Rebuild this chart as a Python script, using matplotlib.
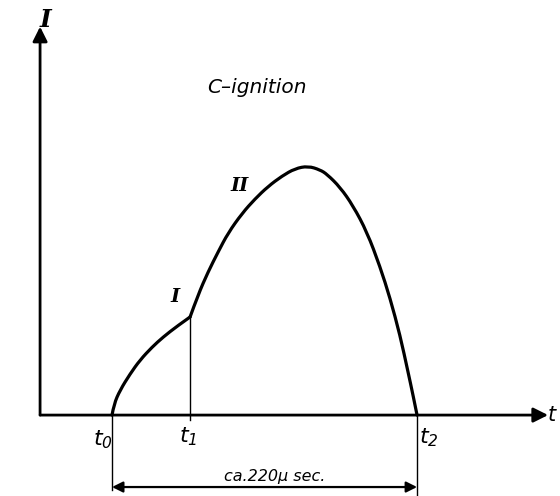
import matplotlib

matplotlib.use("Agg")
import matplotlib.pyplot as plt
from matplotlib.patches import PathPatch
from matplotlib.path import Path

plt.rcParams["mathtext.fontset"] = "custom"
plt.rcParams["mathtext.rm"] = "DejaVu Sans:italic"
plt.rcParams["mathtext.it"] = "DejaVu Sans:italic"

# time in microseconds from ignition start, current in units of the peak
phase1_t = [0.0, 1.4, 5.8, 13.0, 20.2, 28.9, 36.8, 46.9, 56.3]
phase1_i = [0.0, 0.044, 0.100, 0.165, 0.221, 0.273, 0.313, 0.357, 0.394]

phase2_t = [56.3, 62.0, 69.2, 76.5, 83.7, 93.8, 103.1, 112.5, 122.6, 132.0,
            141.4, 150.0, 155.1, 164.5, 173.8, 183.9, 193.3, 200.5, 207.7,
            213.5, 217.1, 220.0]
phase2_i = [0.394, 0.482, 0.574, 0.655, 0.731, 0.810, 0.868, 0.918, 0.960, 0.990,
            1.000, 0.985, 0.967, 0.915, 0.841, 0.735, 0.596, 0.470, 0.321,
            0.173, 0.080, 0.0]

t_marks = [0.0, 56.3, 220.0]
t_labels = [r"$t_0$", r"$t_1$", r"$t_2$"]
duration_label = "ca.220\u00b5 sec."
title = "C\u2013ignition"


def smooth_path(xs, ys):
    """Quadratic Bezier path using the samples as control points."""
    pts = list(zip(xs, ys))
    verts = [pts[0]]
    codes = [Path.MOVETO]
    for k in range(1, len(pts) - 1):
        nxt = pts[k + 1] if k + 1 == len(pts) - 1 else (
            (pts[k][0] + pts[k + 1][0]) / 2, (pts[k][1] + pts[k + 1][1]) / 2)
        verts += [pts[k], nxt]
        codes += [Path.CURVE3, Path.CURVE3]
    return Path(verts, codes)


fig = plt.figure(figsize=(5.6, 4.96), dpi=100)
ax = fig.add_axes([0, 0, 1, 1])
ax.set_xlim(-80.8, 323.1)
ax.set_ylim(-0.325, 1.667)
ax.axis("off")

ink = "black"
arrow = dict(arrowstyle="-|>", color=ink, lw=2.0, shrinkA=0, shrinkB=0,
             mutation_scale=22)

# coordinate axes
ax.annotate("", xy=(-51.9, 1.56), xytext=(-51.9, 0.0), arrowprops=arrow)
ax.annotate("", xy=(314.5, 0.0), xytext=(-51.9, 0.0), arrowprops=arrow)

# current trace
for ts, cur in ((phase1_t, phase1_i), (phase2_t, phase2_i)):
    ax.add_patch(PathPatch(smooth_path(ts, cur), facecolor="none",
                           edgecolor=ink, lw=2.3, capstyle="round"))
ax.plot([t_marks[1], t_marks[1]], [phase1_i[-1], -0.02], color=ink, lw=1.0)

# duration bracket
ax.plot([t_marks[0], t_marks[0]], [0.0, -0.302], color=ink, lw=1.0)
ax.plot([t_marks[2], t_marks[2]], [0.0, -0.325], color=ink, lw=1.0)
ax.annotate("", xy=(t_marks[0], -0.289), xytext=(t_marks[2], -0.289),
            arrowprops=dict(arrowstyle="<|-|>", color=ink, lw=1.6,
                            shrinkA=0, shrinkB=0, mutation_scale=16))
ax.text(117.6, -0.245, duration_label, ha="center", va="center",
        fontsize=11.5, style="italic", color=ink)

# labels
serif = dict(family="DejaVu Serif", style="italic", weight="bold", color=ink,
             ha="center", va="center")
ax.text(-48.3, 1.585, "I", fontsize=18, **serif)
ax.text(92.3, 0.92, "II", fontsize=14, **serif)
ax.text(45.4, 0.474, "I", fontsize=14, **serif)
ax.text(104.6, 1.317, title, ha="center", va="center", fontsize=14.5,
        style="italic", color=ink)
ax.text(314.0, 0.0, r"$t$", ha="left", va="center", fontsize=15, color=ink)

label_pos = [(-6.5, -0.100), (54.8, -0.086), (228.6, -0.092)]
for (x, y), lab in zip(label_pos, t_labels):
    ax.text(x, y, lab, ha="center", va="center", fontsize=16, color=ink)

fig.savefig("out.png", dpi=100)
